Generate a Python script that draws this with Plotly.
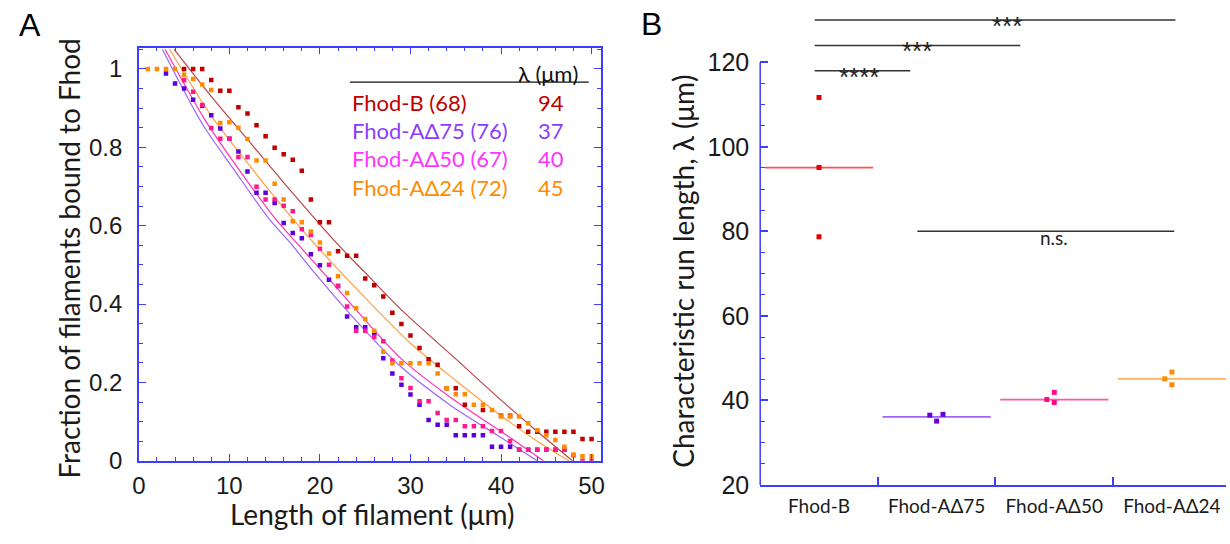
import plotly.graph_objects as go

# ---------------- Panel A data ----------------
fhodB_x = [5, 6, 7, 8, 9, 10, 11, 12, 13, 14, 15, 16, 17, 18, 19, 20, 21, 22, 23, 24, 25, 26, 27, 28, 29, 30,
           31, 32, 33, 34, 35, 36, 38, 40, 41, 42, 43, 44, 45, 46, 47, 48, 49, 50]
fhodB_y = [1.0, 1.0, 1.0, 0.972, 0.944, 0.944, 0.902, 0.886, 0.856, 0.828, 0.799, 0.782, 0.768, 0.740, 0.667,
           0.609, 0.609, 0.535, 0.523, 0.523, 0.465, 0.448, 0.419, 0.378, 0.349, 0.320, 0.288, 0.259, 0.245,
           0.185, 0.185, 0.143, 0.130, 0.115, 0.115, 0.088, 0.074, 0.074, 0.074, 0.074, 0.074, 0.074, 0.056, 0.056]

d24_x = list(range(1, 51))
d24_y = [1.0, 1.0, 1.0, 1.0, 0.985, 0.974, 0.960, 0.946, 0.862, 0.864, 0.850, 0.821, 0.766, 0.766, 0.707, 0.667,
         0.611, 0.609, 0.585, 0.557, 0.529, 0.471, 0.428, 0.389, 0.362, 0.332, 0.278, 0.249, 0.249, 0.249, 0.249,
         0.249, 0.223, 0.185, 0.170, 0.170, 0.143, 0.143, 0.130, 0.113, 0.113, 0.113, 0.096, 0.078, 0.065, 0.053,
         0.036, 0.016, 0.012, 0.012]

d75_x = list(range(3, 48))
d75_y = [0.988, 0.963, 0.950, 0.921, 0.906, 0.882, 0.848, 0.822, 0.789, 0.738, 0.684, 0.684, 0.658, 0.607, 0.581,
         0.568, 0.527, 0.499, 0.462, 0.446, 0.368, 0.341, 0.341, 0.325, 0.262, 0.223, 0.194, 0.169, 0.143, 0.104,
         0.092, 0.092, 0.065, 0.065, 0.065, 0.065, 0.036, 0.036, 0.036, 0.028, 0.028, 0.028, 0.028, 0.028, 0.028]

d50_x = list(range(5, 51))
d50_y = [0.971, 0.942, 0.908, 0.849, 0.822, 0.822, 0.775, 0.775, 0.699, 0.667, 0.667, 0.651, 0.637, 0.591, 0.577,
         0.541, 0.500, 0.446, 0.394, 0.332, 0.332, 0.316, 0.305, 0.256, 0.211, 0.186, 0.152, 0.152, 0.122, 0.104,
         0.104, 0.088, 0.088, 0.088, 0.076, 0.076, 0.050, 0.028, 0.028, 0.028, 0.028, 0.028, 0.028, 0.014, 0.0, 0.0]

# fitted curves
fitB_x = [3.9, 8, 12, 16, 21.9, 25, 29, 35, 40, 44, 47.9]
fitB_y = [1.05, 0.93, 0.82, 0.71, 0.554, 0.48, 0.385, 0.26, 0.155, 0.075, 0.0]
fit24_x = [3.4, 8, 12, 16, 19.4, 24, 30, 35, 40, 44, 47.5]
fit24_y = [1.05, 0.88, 0.76, 0.645, 0.554, 0.44, 0.30, 0.205, 0.115, 0.05, 0.0]
fit50_x = [2.9, 7.3, 11, 15, 17.5, 20, 24, 29, 34.7, 40, 44.7]
fit50_y = [1.05, 0.87, 0.745, 0.62, 0.554, 0.49, 0.385, 0.26, 0.157, 0.075, 0.0]
fit75_x = [2.6, 7, 10.6, 14.3, 16.8, 19.4, 23.5, 28.7, 34.4, 39.6, 44.0]
fit75_y = [1.05, 0.86, 0.74, 0.62, 0.554, 0.48, 0.37, 0.245, 0.142, 0.065, 0.0]

legend_names = ["Fhod-B (68)", "Fhod-A\u039475 (76)", "Fhod-A\u039450 (67)", "Fhod-A\u039424 (72)"]
legend_lambda = ["94", "37", "40", "45"]

# ---------------- Panel B data ----------------
categories = ["Fhod-B", "Fhod-A\u039475", "Fhod-A\u039450", "Fhod-A\u039424"]
cat_index = [0, 1, 2, 3]
runlen_B = [111.7, 95.1, 78.7]
runlen_75 = [36.5, 35.1, 36.7]
runlen_50 = [40.2, 41.9, 39.5]
runlen_24 = [45.1, 46.7, 43.7]
runlen_means = [95.1, 36.1, 40.2, 45.1]
jitter_B = [0, 0, 0]
jitter_75 = [-0.058, 0, 0.054]
jitter_50 = [-0.063, 0, 0]
jitter_24 = [-0.061, 0, 0]
# comparison bars: (x start, x end, y level, label)
sig_x0 = [-0.037, -0.037, -0.037, 0.836]
sig_x1 = [0.776, 1.711, 3.03, 3.02]
sig_y = [118.0, 124.0, 130.0, 80.0]
sig_label = ["****", "***", "***", "n.s."]
sig_label_x = [0.342, 0.829, 1.595, 1.994]

# ---------------- styling ----------------
W, H = 1230, 544
AXBLUE = "#3d3dff"
TICKFONT = dict(family="Liberation Sans, Arial", size=24, color="#1a1a1a")
TEXTFONT = "Lato"

mk_col = ["#c00000", "#5a00e0", "#ff1a8c", "#ff8c00"]
fit_col = ["#b5484a", "#9a66ff", "#ff33b4", "#ffa040"]
leg_col = ["#c00000", "#8c3cff", "#ff33ff", "#ff8c00"]
b_mk_col = ["#e00000", "#6a00d8", "#ff0a84", "#ff8c00"]
b_line_col = ["#ff5050", "#a064f5", "#ff55aa", "#ffb266"]


def px(xp):
    return xp / W


def py(yp):
    return 1 - yp / H


def note(xp, yp, text, font, xanchor="center", yanchor="middle", angle=0):
    return dict(x=px(xp), y=py(yp), xref="paper", yref="paper", text=text, showarrow=False,
                xanchor=xanchor, yanchor=yanchor, textangle=angle, font=font)


fig = go.Figure()

# Panel A fits
for fx, fy, c in [(fitB_x, fitB_y, fit_col[0]), (fit75_x, fit75_y, fit_col[1]),
                  (fit50_x, fit50_y, fit_col[2]), (fit24_x, fit24_y, fit_col[3])]:
    fig.add_trace(go.Scatter(x=fx, y=fy, mode="lines", line=dict(color=c, width=1.2, shape="spline", smoothing=0.8),
                             xaxis="x", yaxis="y", showlegend=False, hoverinfo="skip"))
# Panel A markers
for dx, dy, c in [(d75_x, d75_y, mk_col[1]), (d50_x, d50_y, mk_col[2]),
                  (fhodB_x, fhodB_y, mk_col[0]), (d24_x, d24_y, mk_col[3])]:
    fig.add_trace(go.Scatter(x=dx, y=dy, mode="markers", marker=dict(symbol="square", size=4.5, color=c),
                             xaxis="x", yaxis="y", showlegend=False))

# Panel B mean lines and points
for i, (vals, jit) in enumerate([(runlen_B, jitter_B), (runlen_75, jitter_75),
                                 (runlen_50, jitter_50), (runlen_24, jitter_24)]):
    fig.add_trace(go.Scatter(x=[cat_index[i] - 0.46, cat_index[i] + 0.46], y=[runlen_means[i]] * 2, mode="lines",
                             line=dict(color=b_line_col[i], width=1.8), xaxis="x2", yaxis="y2", showlegend=False))
    fig.add_trace(go.Scatter(x=[cat_index[i] + j for j in jit], y=vals, mode="markers",
                             marker=dict(symbol="square", size=5, color=b_mk_col[i]),
                             xaxis="x2", yaxis="y2", showlegend=False))

shapes = []
annotations = []

# axis line for panel B y (only from 20 to 120)
shapes.append(dict(type="line", xref="paper", yref="y2", x0=px(760), x1=px(760), y0=20, y1=120,
                   line=dict(color=AXBLUE, width=1.5)))
# significance bars
for x0, x1, yv in zip(sig_x0, sig_x1, sig_y):
    shapes.append(dict(type="line", xref="x2", yref="y2", x0=x0, x1=x1, y0=yv, y1=yv,
                       line=dict(color="#333333", width=1.5)))
for lx, yv, lab in zip(sig_label_x, sig_y, sig_label):
    if lab.startswith("*"):
        annotations.append(dict(x=lx, y=yv, xref="x2", yref="y2", text=lab, showarrow=False, xanchor="center",
                                yanchor="top", yshift=11,
                                font=dict(family="Liberation Sans, Arial", size=26, color="#222222")))
    else:
        annotations.append(dict(x=lx, y=yv, xref="x2", yref="y2", text=lab, showarrow=False, xanchor="center",
                                yanchor="top", yshift=7, font=dict(family=TEXTFONT, size=19, color="#222222")))

# legend table in panel A
shapes.append(dict(type="line", xref="paper", yref="paper", x0=px(346), x1=px(587), y0=py(84.3), y1=py(84.3),
                   line=dict(color="#111111", width=1.2)))
annotations.append(note(514, 75, "\u03bb (\u03bcm)", dict(family=TEXTFONT, size=22, color="#111111"),
                        xanchor="left"))
for i, (nm, lam) in enumerate(zip(legend_names, legend_lambda)):
    yc = 105 + 29 * i
    annotations.append(note(346, yc, nm, dict(family=TEXTFONT, size=22, color=leg_col[i]), xanchor="left"))
    annotations.append(note(534, yc, lam, dict(family=TEXTFONT, size=22, color=leg_col[i]), xanchor="left"))

# panel letters
annotations.append(note(23, 25.5, "A", dict(family="Liberation Sans, Arial", size=32, color="#000000")))
annotations.append(note(650, 25, "B", dict(family="Liberation Sans, Arial", size=32, color="#000000")))
# axis titles
annotations.append(note(63, 265, "Fraction of filaments bound to Fhod",
                        dict(family=TEXTFONT, size=28, color="#1a1a1a"), angle=-90))
annotations.append(note(368, 528, "Length of filament (\u03bcm)", dict(family=TEXTFONT, size=28, color="#1a1a1a")))
annotations.append(note(682, 278, "Characteristic run length, \u03bb (\u03bcm)",
                        dict(family=TEXTFONT, size=28, color="#1a1a1a"), angle=-90))

fig.update_layout(
    width=W, height=H, margin=dict(l=0, r=0, t=0, b=0),
    paper_bgcolor="white", plot_bgcolor="white",
    xaxis=dict(domain=[px(133), px(599)], range=[0, 51], tickvals=[0, 10, 20, 30, 40, 50],
               ticks="inside", ticklen=7, tickwidth=1.2, tickcolor=AXBLUE,
               minor=dict(dtick=2, tick0=0, ticks="inside", ticklen=4, tickwidth=1, tickcolor=AXBLUE),
               showline=True, linecolor=AXBLUE, linewidth=1.5, mirror="ticks", showgrid=False, zeroline=False,
               tickfont=TICKFONT, ticklabelstandoff=3, anchor="y"),
    yaxis=dict(domain=[py(473), py(49)], range=[0, 1.054], tickvals=[0, 0.2, 0.4, 0.6, 0.8, 1.0],
               ticktext=["0", "0.2", "0.4", "0.6", "0.8", "1"],
               ticks="inside", ticklen=7, tickwidth=1.2, tickcolor=AXBLUE,
               minor=dict(dtick=0.05, tick0=0, ticks="inside", ticklen=4, tickwidth=1, tickcolor=AXBLUE),
               showline=True, linecolor=AXBLUE, linewidth=1.5, mirror="ticks", showgrid=False, zeroline=False,
               tickfont=TICKFONT, ticklabelstandoff=10, anchor="x"),
    xaxis2=dict(domain=[px(760), 1.0], range=[-0.5, 3.46], tickvals=cat_index, ticktext=categories,
                ticks="", showline=True, linecolor=AXBLUE, linewidth=1.5, showgrid=False, zeroline=False,
                minor=dict(tickvals=[0.5, 1.5, 2.5], ticks="inside", ticklen=8, tickwidth=1.5, tickcolor=AXBLUE),
                tickfont=dict(family=TEXTFONT, size=19, color="#1a1a1a"), ticklabelstandoff=4, anchor="y2"),
    yaxis2=dict(domain=[py(497.7), py(15)], range=[20, 131.3], tickvals=[20, 40, 60, 80, 100, 120],
                ticks="inside", ticklen=8, tickwidth=1.5, tickcolor=AXBLUE, showline=False,
                minor=dict(tickvals=[25, 30, 35, 45, 50, 55, 65, 70, 75, 85, 90, 95, 105, 110, 115],
                           ticks="inside", ticklen=5, tickwidth=1.2, tickcolor=AXBLUE),
                showgrid=False, zeroline=False, tickfont=dict(family="Liberation Sans, Arial", size=25,
                                                              color="#1a1a1a"),
                ticklabelstandoff=10, anchor="x2"),
    shapes=shapes, annotations=annotations,
)

fig.write_html("out.html", config={"displayModeBar": False},
               post_script="document.body.style.margin='0px';document.body.style.padding='0px';")
